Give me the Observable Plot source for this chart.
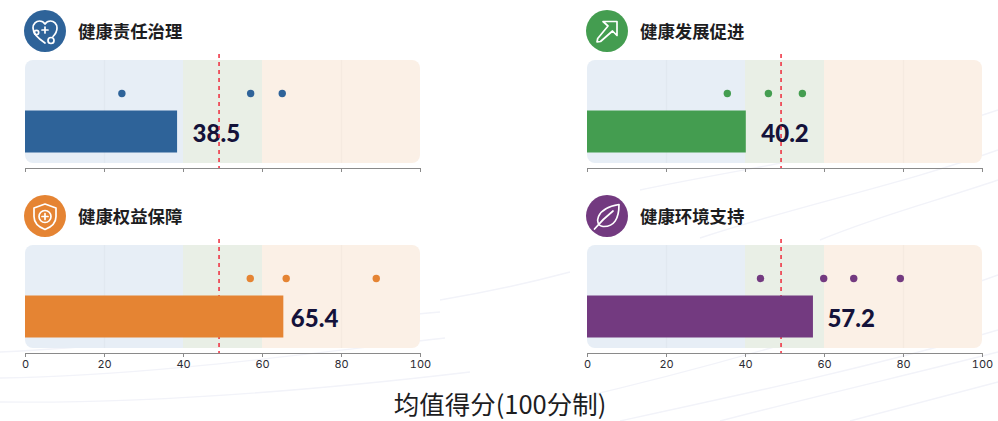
<!DOCTYPE html>
<html lang="zh">
<head>
<meta charset="utf-8">
<script src="https://cdn.jsdelivr.net/npm/d3@7"></script>
<script src="https://cdn.jsdelivr.net/npm/@observablehq/plot@0.6"></script>
<style>
  html, body { margin: 0; padding: 0; background: #fff; }
  #page { position: relative; width: 998px; height: 421px; overflow: hidden;
          font-family: "Noto Sans CJK SC", sans-serif; }
  #swoosh { position: absolute; left: 0; top: 0; }
  .chart { position: absolute; }
  .chart svg { display: block; overflow: visible; }
  .icon { position: absolute; width: 42px; height: 42px; }
  .title { position: absolute; font-size: 17.4px; line-height: 24px; font-weight: 700;
           color: #1d1d1f; white-space: nowrap; }
  #xlabel { position: absolute; left: 0; width: 1000px; top: 390px; text-align: center;
            font-size: 25.500px; line-height: 26px; color: #1d1d1f; }
</style>
</head>
<body>
<div id="page">
  <svg id="swoosh" width="998" height="421" fill="none" stroke="#f2f3f9" stroke-width="1.4">
    <path d="M0 352C140 345 300 325 440 312"/>
    <path d="M0 378C150 376 320 352 445 338"/>
    <path d="M0 402C170 404 360 385 470 372"/>
    <path d="M620 421C740 395 880 365 998 330"/>
    <path d="M570 400C700 370 860 325 998 275"/>
    <path d="M720 421C820 395 920 372 998 352"/>
    <path d="M850 421C900 408 950 395 998 382"/>
    <path d="M640 190C760 165 880 150 998 110"/>
    <path d="M700 238C800 205 900 185 998 150"/>
    <path d="M820 240C880 215 940 200 998 180"/>
    <path d="M440 300C500 290 540 280 570 272"/>
  </svg>
  <div id="xlabel">均值得分(100分制)</div>
</div>
<script>
// Four domain scores on a 100-point scale, with indicator scores as dots
const domains = ["健康责任治理", "健康发展促进", "健康权益保障", "健康环境支持"];
const means = [38.5, 40.2, 65.4, 57.2];
const indicators = [
  [24.4, 57, 65],
  [35.4, 45.8, 54.4],
  [56.9, 66, 88.8],
  [43.8, 59.8, 67.4, 79.2]
];
const colors = ["#2e6399", "#449d50", "#e58433", "#733a80"];
const benchmark = 49;
const bandStarts = [0, 40, 60];
const bandEnds = [40, 60, 100];
const bandColors = ["#e7eef6", "#e9efe6", "#fbf0e6"];
const gridValues = [20, 80];
const tickValues = [0, 20, 40, 60, 80, 100];

// Per-panel placement on the page and gap between bar end and score label
const panelLeft = [15, 577, 15, 577];
const panelTop = [44, 44, 229, 229];
const labelGap = [15, 15, 7, 14];

// White glyphs for the round badges
const glyphs = [
  `<path d="M21 33C13.500 28 9 23.500 9 18c0-4.300 3.200-7 6.500-7 2.300 0 4.300 1.100 5.500 3 1.200-1.900 3.200-3 5.500-3 3.300 0 6.500 2.700 6.500 7 0 3.300-1.500 6-4 8.500"/><circle cx="12.500" cy="22.500" r="2.200"/><circle cx="27" cy="30.500" r="3"/><path d="M21 17v6M18 20h6"/>`,
  `<path d="M17 11.500h14v14l-4.500-4.500L14.500 31.500l-3.500.5.700-3.500L22 16z"/>`,
  `<path d="M21 9l11 4v8.500C32 28 27.500 32 21 34.500 14.500 32 10 28 10 21.500V13z"/><circle cx="21" cy="21.500" r="6"/><path d="M21 18.500v6M18 21.500h6"/>`,
  `<path d="M33 9.500C33 24 28 32 17 31.500 12 31 10.500 26 12.500 21.500 15.500 14.500 24 11 33 9.500z"/><path d="M8.500 34C14 27.500 20 21.500 27 16"/>`
];

const page = document.getElementById("page");

domains.forEach((name, i) => {
  const plot = Plot.plot({
    width: 420,
    height: 150,
    marginLeft: 10,
    marginRight: 15,
    marginTop: 10,
    marginBottom: 26,
    style: { background: "transparent", fontFamily: "Inter, sans-serif" },
    x: { domain: [0, 100], label: null },
    y: { type: "band", domain: ["indicator", "mean"], range: [29.6, 107.1], padding: 0, axis: null },
    marks: [
      // Background score bands, with the outer corners rounded
      ...bandStarts.map((start, b) => Plot.rectX([b], {
        x1: () => start,
        x2: () => bandEnds[b],
        fill: () => bandColors[b],
        insetTop: 6,
        insetBottom: 5,
        ...(b === 0 ? { rx1: 8 } : {}),
        ...(b === bandStarts.length - 1 ? { rx2: 8 } : {})
      })),
      Plot.ruleX(gridValues, { stroke: "#000", strokeOpacity: 0.022, strokeWidth: 1.5, insetTop: 6, insetBottom: 5 }),
      Plot.text([means[i]], {
        x: d => d,
        y: () => "mean",
        text: d => d.toFixed(1),
        dx: labelGap[i],
        dy: 2.5,
        textAnchor: "start",
        fontFamily: "Lato, sans-serif",
        fontSize: 24,
        fontWeight: 900,
        fill: "#14123a"
      }),
      Plot.ruleX([benchmark], { stroke: "#ee2b3b", strokeWidth: 1.5, strokeDasharray: "4,4" }),
      Plot.barX([means[i]], {
        x: d => d,
        y: () => "mean",
        fill: colors[i],
        insetTop: -1.5,
        insetBottom: -2.5
      }),
      Plot.dot(indicators[i], {
        x: d => d,
        y: () => "indicator",
        r: 3.7,
        fill: colors[i]
      }),
      Plot.axisX({
        ticks: tickValues,
        tickSize: 4,
        tickPadding: 3,
        stroke: "#8a8a8a",
        fill: "#2b2b33",
        fontSize: 11,
        label: null,
        tickFormat: panelTop[i] === panelTop[0] ? () => "" : d => String(d)
      }),
      Plot.frame({ anchor: "bottom", stroke: "#8a8a8a" })
    ]
  });
  plot.classList.add("chart");
  plot.style.left = panelLeft[i] + "px";
  plot.style.top = panelTop[i] + "px";
  page.appendChild(plot);

  const iconX = panelLeft[i] + 9;
  const iconY = panelTop[i] - 34;
  const badge = document.createElement("div");
  badge.className = "icon";
  badge.style.left = iconX + "px";
  badge.style.top = iconY + "px";
  badge.innerHTML = `<svg width="42" height="42" viewBox="0 0 42 42"><circle cx="21" cy="21" r="21" fill="${colors[i]}"/><g fill="none" stroke="#fff" stroke-width="1.700" stroke-linejoin="round" stroke-linecap="round">${glyphs[i]}</g></svg>`;
  page.appendChild(badge);

  const title = document.createElement("div");
  title.className = "title";
  title.textContent = name;
  title.style.left = (panelLeft[i] + 63) + "px";
  title.style.top = (panelTop[i] - 25) + "px";
  page.appendChild(title);
});
</script>
</body>
</html>
